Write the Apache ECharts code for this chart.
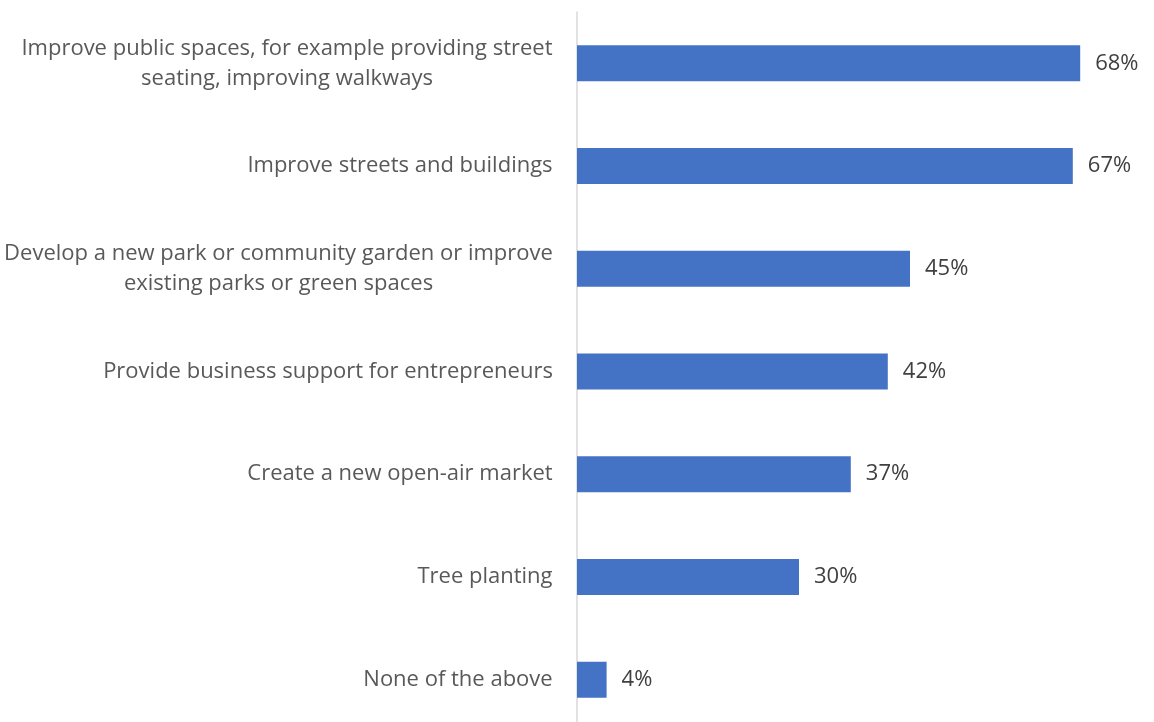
<!DOCTYPE html>
<html><head><meta charset="utf-8">
<script src="https://cdn.jsdelivr.net/npm/echarts@6/dist/echarts.min.js"></script>
<style>html,body{margin:0;padding:0;background:#fff}#c{width:1154px;height:722px}</style>
</head><body><div id="c"></div>
<script>
const categories = [
  "Improve public spaces, for example providing street\nseating, improving walkways",
  "Improve streets and buildings",
  "Develop a new park or community garden or improve\nexisting parks or green spaces",
  "Provide business support for entrepreneurs",
  "Create a new open-air market",
  "Tree planting",
  "None of the above"
];
const values = [68, 67, 45, 42, 37, 30, 4];

const FONT = 'Open Sans';
const FS = 22;
const ctx = document.createElement('canvas').getContext('2d');
ctx.font = FS + 'px "' + FONT + '"';
const rich = {};
categories.forEach((c, i) => {
  const w = Math.max(...c.split('\n').map(l => ctx.measureText(l).width));
  rich['r' + i] = {width: Math.ceil(w), align: 'center', fontSize: FS, fontFamily: FONT, color: '#595959', lineHeight: 30};
});

const chart = echarts.init(document.getElementById('c'), null, {renderer: 'canvas'});
chart.setOption({
  animation: false,
  grid: {left: 577, right: 59, top: 12, height: 719, containLabel: false, outerBoundsMode: 'none'},
  xAxis: {type: 'value', min: 0, max: 70, show: false},
  yAxis: {
    type: 'category', data: categories, inverse: true,
    axisLine: {show: true, lineStyle: {color: '#d9d9d9', width: 1.5}},
    axisTick: {show: false},
    axisLabel: {
      margin: 24, color: '#595959', fontSize: FS, fontFamily: FONT, lineHeight: 30, align: 'right',
      formatter: (v, i) => v.split('\n').map(l => '{r' + i + '|' + l + '}').join('\n'),
      rich: rich
    }
  },
  series: [{
    type: 'bar', data: values, barWidth: 36,
    itemStyle: {color: '#4472C4'},
    label: {show: true, position: 'right', distance: 15, formatter: '{c}%', color: '#404040', fontSize: FS, fontFamily: FONT}
  }]
});
</script></body></html>
